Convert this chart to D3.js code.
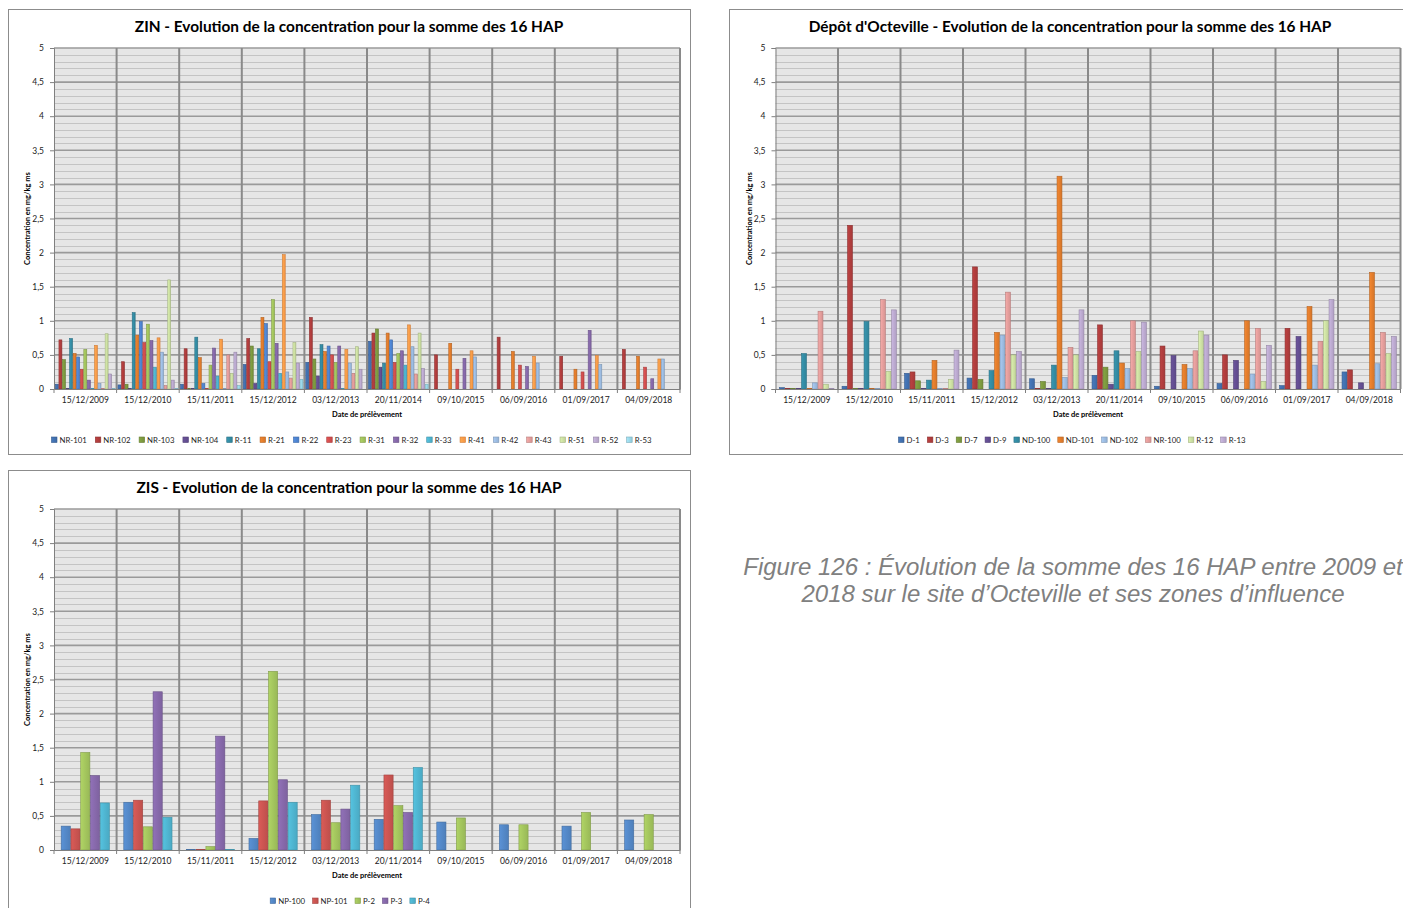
<!DOCTYPE html>
<html>
<head>
<meta charset="utf-8">
<script src="https://cdn.jsdelivr.net/npm/d3@7"></script>
<style>
  html, body { margin: 0; padding: 0; background: #ffffff; }
  svg { display: block; }
</style>
</head>
<body>
<svg id="chart" width="1403" height="908"></svg>
<script>
// ---------- DATA ----------
const dates = ["15/12/2009","15/12/2010","15/11/2011","15/12/2012","03/12/2013","20/11/2014","09/10/2015","06/09/2016","01/09/2017","04/09/2018"];
const yTicks = [0, 0.5, 1, 1.5, 2, 2.5, 3, 3.5, 4, 4.5, 5];

// ZIN
const zinSeries = ["NR-101","NR-102","NR-103","NR-104","R-11","R-21","R-22","R-23","R-31","R-32","R-33","R-41","R-42","R-43","R-51","R-52","R-53"];
const zinNR101 = [0.07, 0.06, 0.07, 0.36, 0.39, 0.70, null, null, null, null];
const zinNR102 = [0.72, 0.40, 0.59, 0.74, 1.05, 0.82, 0.50, 0.76, 0.48, 0.58];
const zinNR103 = [0.43, 0.07, 0.01, 0.63, 0.44, 0.88, null, null, null, null];
const zinNR104 = [0.01, 0.01, 0.01, 0.08, 0.19, 0.32, null, null, null, null];
const zinR11   = [0.74, 1.12, 0.76, 0.59, 0.65, 0.38, null, null, null, null];
const zinR21   = [0.52, 0.79, 0.46, 1.05, 0.55, 0.82, 0.67, 0.55, 0.29, 0.48];
const zinR22   = [0.47, 0.99, 0.08, 0.96, 0.63, 0.72, null, null, null, null];
const zinR23   = [0.29, 0.68, 0.01, 0.40, 0.50, 0.39, 0.29, 0.35, 0.25, 0.32];
const zinR31   = [0.58, 0.95, 0.35, 1.31, 0.39, 0.52, null, null, null, null];
const zinR32   = [0.13, 0.71, 0.60, 0.67, 0.63, 0.56, 0.45, 0.33, 0.86, 0.15];
const zinR33   = [0.01, 0.32, 0.19, 0.23, 0.01, 0.35, null, null, null, null];
const zinR41   = [0.64, 0.75, 0.73, 1.97, 0.58, 0.94, 0.56, 0.48, 0.49, 0.44];
const zinR42   = [0.08, 0.54, 0.01, 0.25, 0.38, 0.62, 0.47, 0.38, 0.36, 0.44];
const zinR43   = [0.01, 0.05, 0.50, 0.16, 0.23, 0.22, null, null, null, null];
const zinR51   = [0.81, 1.60, 0.23, 0.68, 0.62, 0.82, null, null, null, null];
const zinR52   = [0.22, 0.13, 0.54, 0.38, 0.29, 0.30, null, null, null, null];
const zinR53   = [0.01, 0.01, 0.05, 0.14, 0.00, 0.07, null, null, null, null];
const zinColors = ["#3F6CA8","#A83A3A","#77933C","#5F4A8B","#31859C","#D8772A","#4A7EC8","#C94A4A","#9BBB59","#8064A2","#4BACC6","#F79646","#95B3D7","#D99694","#C3D69B","#B3A2C7","#93CDDD"];

// Dépôt d'Octeville
const octSeries = ["D-1","D-3","D-7","D-9","ND-100","ND-101","ND-102","NR-100","R-12","R-13"];
const octD1    = [0.02, 0.04, 0.23, 0.16, 0.15, 0.20, 0.04, 0.08, 0.05, 0.25];
const octD3    = [0.01, 2.40, 0.25, 1.79, 0.01, 0.94, 0.63, 0.50, 0.89, 0.28];
const octD7    = [0.01, 0.01, 0.12, 0.14, 0.11, 0.32, null, null, null, null];
const octD9    = [0.01, 0.01, 0.01, 0.00, 0.01, 0.07, 0.49, 0.42, 0.77, 0.09];
const octND100 = [0.52, 0.99, 0.13, 0.27, 0.35, 0.56, null, null, null, null];
const octND101 = [0.01, 0.01, 0.42, 0.83, 3.12, 0.38, 0.36, 1.00, 1.21, 1.71];
const octND102 = [0.09, 0.01, 0.01, 0.79, 0.17, 0.30, 0.30, 0.22, 0.35, 0.37];
const octNR100 = [1.14, 1.31, 0.01, 1.42, 0.61, 1.00, 0.56, 0.89, 0.70, 0.83];
const octR12   = [0.07, 0.26, 0.14, 0.50, 0.50, 0.55, 0.85, 0.11, 1.00, 0.52];
const octR13   = [0.01, 1.16, 0.57, 0.55, 1.16, 0.98, 0.79, 0.64, 1.31, 0.77];
const octColors = ["#3F6CA8","#A83A3A","#77933C","#5F4A8B","#31859C","#D8772A","#95B3D7","#D99694","#C3D69B","#B3A2C7"];

// ZIS
const zisSeries = ["NP-100","NP-101","P-2","P-3","P-4"];
const zisNP100 = [0.35, 0.70, 0.01, 0.17, 0.52, 0.45, 0.41, 0.37, 0.35, 0.44];
const zisNP101 = [0.31, 0.73, 0.01, 0.72, 0.73, 1.10, null, null, null, null];
const zisP2    = [1.43, 0.34, 0.05, 2.62, 0.40, 0.65, 0.47, 0.37, 0.55, 0.52];
const zisP3    = [1.09, 2.32, 1.67, 1.03, 0.60, 0.55, null, null, null, null];
const zisP4    = [0.69, 0.48, 0.01, 0.70, 0.95, 1.21, null, null, null, null];
const zisColors = ["#4F81BD","#C0504D","#9BBB59","#8064A2","#4BACC6"];

const yAxisTitle = "Concentration en mg/kg ms";
const xAxisTitle = "Date de prélèvement";
const captionLines = ["Figure 126 : Évolution de la somme des 16 HAP entre 2009 et", "2018 sur le site d’Octeville et ses zones d’influence"];

// ---------- DRAW ----------
const svg = d3.select("#chart");
const defs = svg.append("defs");
const FONT = "Lato, 'Open Sans', sans-serif";
let gradId = 0;

function gradientFor(color) {
  const id = "g" + (gradId++);
  const c = d3.color(color);
  const lg = defs.append("linearGradient").attr("id", id).attr("x1", "0").attr("x2", "1").attr("y1", "0").attr("y2", "0");
  lg.append("stop").attr("offset", "0%").attr("stop-color", c.brighter(0.35).formatHex());
  lg.append("stop").attr("offset", "100%").attr("stop-color", c.darker(0.05).formatHex());
  return id;
}

function drawChart(o) {
  const box = svg.append("g");
  box.append("rect").attr("x", o.bx + 0.5).attr("y", o.by + 0.5).attr("width", o.bw).attr("height", o.bh)
    .attr("fill", "#fff").attr("stroke", "#8c8c8c").attr("stroke-width", 1);

  box.append("text").attr("x", o.bx + o.bw / 2).attr("y", o.by + 23)
    .attr("text-anchor", "middle").attr("font-family", FONT).attr("font-weight", "bold")
    .attr("font-size", 15.4).attr("fill", "#000").text(o.title);

  const g = svg.append("g").attr("transform", `translate(${o.px},${o.py})`);
  const x0 = d3.scaleBand().domain(dates).range([0, o.pw]).padding(0);
  const bw = x0.bandwidth();
  const off = bw * (1 - o.frac) / 2;
  const x1 = d3.scaleBand().domain(o.series).range([off, bw - off]).padding(0);
  const y = d3.scaleLinear().domain([0, 5]).range([o.ph, 0]);

  g.append("rect").attr("width", o.pw).attr("height", o.ph).attr("fill", "#e6e6e6");

  const minor = d3.range(1, 50).map(i => i / 10).filter(v => Math.abs(v * 2 - Math.round(v * 2)) > 1e-6);
  g.selectAll(".minor").data(minor).join("line")
    .attr("x1", 0).attr("x2", o.pw).attr("y1", d => Math.round(y(d)) + 0.5).attr("y2", d => Math.round(y(d)) + 0.5)
    .attr("stroke", "#c4c4c4").attr("stroke-width", 1);
  g.selectAll(".major").data(yTicks.filter(d => d > 0)).join("line")
    .attr("x1", 0).attr("x2", o.pw).attr("y1", d => y(d)).attr("y2", d => y(d))
    .attr("stroke", "#9a9a9a").attr("stroke-width", 1.6);
  g.selectAll(".vcat").data(dates).join("line")
    .attr("x1", d => x0(d) + bw).attr("x2", d => x0(d) + bw).attr("y1", 0).attr("y2", o.ph)
    .attr("stroke", "#8a8a8a").attr("stroke-width", 2);

  const grads = o.colors.map(gradientFor);
  const flat = [];
  o.values.forEach((arr, si) => arr.forEach((v, di) => { if (v !== null) flat.push({ s: o.series[si], si, d: dates[di], v }); }));
  g.selectAll(".bar").data(flat).join("rect")
    .attr("x", d => x0(d.d) + x1(d.s) + 0.3)
    .attr("width", Math.max(0.5, x1.bandwidth() - 0.6))
    .attr("y", d => y(d.v))
    .attr("height", d => Math.max(0, o.ph - y(d.v)))
    .attr("fill", d => `url(#${grads[d.si]})`)
    .attr("stroke", d => d3.color(o.colors[d.si]).darker(0.5).formatHex())
    .attr("stroke-width", 0.6);

  // y axis
  const ya = g.append("g").call(d3.axisLeft(y).tickValues(yTicks).tickSize(4).tickPadding(6)
    .tickFormat(d => String(d).replace(".", ",")));
  ya.select(".domain").attr("stroke", "#7f7f7f");
  ya.selectAll(".tick line").attr("stroke", "#7f7f7f");
  ya.selectAll("text").attr("font-family", FONT).attr("font-size", 8.5).attr("fill", "#222");

  // x axis
  const xa = g.append("g").attr("transform", `translate(0,${o.ph})`).call(d3.axisBottom(x0).tickSize(0).tickPadding(8));
  xa.select(".domain").attr("stroke", "#7f7f7f");
  xa.selectAll("text").attr("font-family", FONT).attr("font-size", 8.5).attr("fill", "#222");
  g.selectAll(".xt").data([0, ...dates.map(d => x0(d) + bw)]).join("line")
    .attr("x1", d => d).attr("x2", d => d).attr("y1", o.ph).attr("y2", o.ph + 4).attr("stroke", "#7f7f7f");

  g.append("text").attr("x", o.pw / 2).attr("y", o.ph + 28).attr("text-anchor", "middle")
    .attr("font-family", FONT).attr("font-weight", "bold").attr("font-size", 7.5).attr("fill", "#000").text(xAxisTitle);
  g.append("text").attr("transform", `translate(${-24},${o.ph / 2}) rotate(-90)`).attr("text-anchor", "middle")
    .attr("font-family", FONT).attr("font-weight", "bold").attr("font-size", 7.5).attr("fill", "#000").text(yAxisTitle);

  // legend
  const lg = svg.append("g");
  let cx = 0;
  o.series.forEach((s, i) => {
    const it = lg.append("g").attr("transform", `translate(${cx},0)`);
    it.append("rect").attr("x", 0).attr("y", -5).attr("width", 5.5).attr("height", 5.5)
      .attr("fill", `url(#${grads[i]})`).attr("stroke", d3.color(o.colors[i]).darker(0.5).formatHex()).attr("stroke-width", 0.6);
    const t = it.append("text").attr("x", 8).attr("y", 0.5).attr("font-family", FONT).attr("font-size", 7.8)
      .attr("fill", "#222").text(s);
    cx += 8 + t.node().getComputedTextLength() + o.legendGap;
  });
  const lw = cx - o.legendGap;
  lg.attr("transform", `translate(${o.legendCx - lw / 2},${o.legendY})`);
}

drawChart({
  bx: 8, by: 9, bw: 682, bh: 445,
  px: 54, py: 48, pw: 626, ph: 341,
  title: "ZIN - Evolution de la concentration pour la somme des 16 HAP",
  series: zinSeries,
  values: [zinNR101, zinNR102, zinNR103, zinNR104, zinR11, zinR21, zinR22, zinR23, zinR31, zinR32, zinR33, zinR41, zinR42, zinR43, zinR51, zinR52, zinR53],
  colors: zinColors, frac: 0.965, legendCx: 351.5, legendY: 442, legendGap: 8.5
});

drawChart({
  bx: 729, by: 9, bw: 682, bh: 445,
  px: 775.5, py: 48, pw: 625, ph: 341,
  title: "Dépôt d'Octeville - Evolution de la concentration pour la somme des 16 HAP",
  series: octSeries,
  values: [octD1, octD3, octD7, octD9, octND100, octND101, octND102, octNR100, octR12, octR13],
  colors: octColors, frac: 0.88, legendCx: 1072, legendY: 442, legendGap: 7.5
});

drawChart({
  bx: 8, by: 470, bw: 682, bh: 445,
  px: 54, py: 509, pw: 626, ph: 341,
  title: "ZIS - Evolution de la concentration pour la somme des 16 HAP",
  series: zisSeries,
  values: [zisNP100, zisNP101, zisP2, zisP3, zisP4],
  colors: zisColors, frac: 0.78, legendCx: 350, legendY: 903, legendGap: 7.5
});

// caption
const cap = svg.append("g");
captionLines.forEach((line, i) => {
  cap.append("text").attr("x", 1073).attr("y", 575 + i * 27).attr("text-anchor", "middle")
    .attr("font-family", "'Liberation Sans', Arial, sans-serif").attr("font-style", "italic")
    .attr("font-size", 24).attr("fill", "#808080").text(line);
});
</script>
</body>
</html>
